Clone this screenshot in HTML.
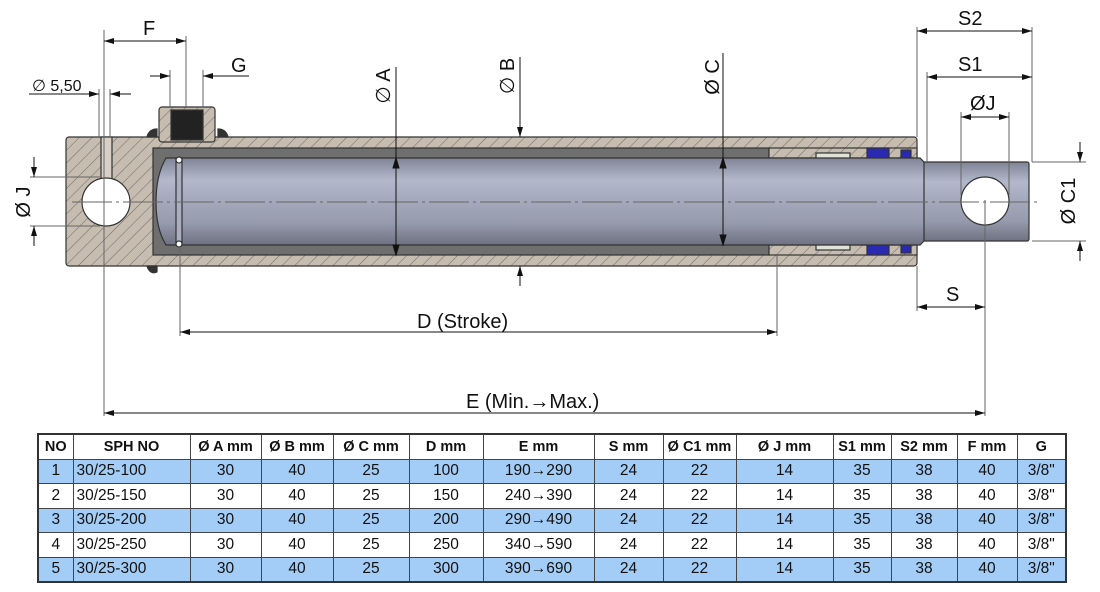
<!DOCTYPE html>
<html><head><meta charset="utf-8"><style>
body{margin:0;background:#fff;width:1100px;height:592px;overflow:hidden;font-family:"Liberation Sans",sans-serif}
svg{position:absolute;left:0;top:0}
table{position:absolute;left:37px;top:433px;border-collapse:collapse;table-layout:fixed;font-family:"Liberation Sans",sans-serif;font-size:15.5px;color:#111;border:2px solid #333}
td,th{border:1px solid #444;height:23.5px;line-height:20px;padding:0;text-align:center;overflow:hidden;white-space:nowrap}
th{font-weight:bold;font-size:14.5px;background:#fff}
tr.b td{background:#a3cdf6}
td.l{text-align:left;padding-left:3px}
</style></head><body>
<svg width="1100" height="592" viewBox="0 0 1100 592">
<defs>
<pattern id="h" width="9" height="9" patternUnits="userSpaceOnUse" patternTransform="rotate(45)">
<rect width="9" height="9" fill="#c6bcb0"/><line x1="0" y1="0" x2="0" y2="9" stroke="#555" stroke-width="0.8"/></pattern>
<linearGradient id="rod" x1="0" y1="0" x2="0" y2="1">
<stop offset="0" stop-color="#7f8496"/><stop offset="0.25" stop-color="#b3b8cb"/><stop offset="0.45" stop-color="#a7abbf"/><stop offset="0.75" stop-color="#959aac"/><stop offset="1" stop-color="#6e7282"/></linearGradient>
<marker id="a" viewBox="0 0 10 6" refX="10" refY="3" markerWidth="10" markerHeight="6" orient="auto-start-reverse" markerUnits="userSpaceOnUse"><path d="M0,0L10,3L0,6z" fill="#111"/></marker>
</defs>
<g stroke="#333" stroke-width="1.2">
<rect x="66" y="137" width="851" height="129" rx="3" fill="url(#h)"/>
<rect x="153" y="148" width="616" height="107" fill="#6f6f6f"/>
<rect x="769" y="148" width="148" height="10" fill="url(#h)"/>
<rect x="769" y="245" width="148" height="10" fill="url(#h)"/>
<rect x="816" y="153" width="34" height="6" fill="#dfe3d8"/>
<rect x="816" y="244" width="34" height="6" fill="#dfe3d8"/>
<rect x="867" y="148" width="22" height="10" fill="#2a2ab0"/>
<rect x="867" y="245" width="22" height="10" fill="#2a2ab0"/>
<rect x="901" y="150" width="10" height="8" fill="#2a2ab0"/>
<rect x="901" y="245" width="10" height="8" fill="#2a2ab0"/>
<rect x="915" y="162" width="114" height="79" rx="2" fill="url(#rod)"/>
<path d="M180,158H920L924,162V241L920,245H180z" fill="url(#rod)"/>
<path d="M180,158H166Q156,175 156,202Q156,229 166,245H180z" fill="url(#rod)"/>
<rect x="176" y="158" width="6" height="87" fill="#a9aec2"/>
<circle cx="179" cy="160" r="3" fill="#fff"/><circle cx="179" cy="244" r="3" fill="#fff"/>
<rect x="101" y="137" width="11" height="45" fill="#d8d0c6"/>
<circle cx="106" cy="202" r="24" fill="#fff"/>
<circle cx="985" cy="201" r="24" fill="#fff"/>
<rect x="159" y="107" width="56" height="35" rx="3" fill="url(#h)"/>
<rect x="171" y="110" width="32" height="30" fill="#222"/>
<path d="M147,137q2,-8 10,-8v8z M218,129q8,0 10,8h-10z M147,266q3,9 10,6v-6z" fill="#333"/>
</g>
<g stroke="#666" stroke-width="1" fill="none">
<line x1="72" y1="202" x2="1040" y2="202" stroke-dasharray="40,4,3,4"/>
<line x1="104" y1="30" x2="104" y2="416"/><line x1="186" y1="36" x2="186" y2="107"/>
<line x1="170" y1="70" x2="170" y2="107"/><line x1="203" y1="70" x2="203" y2="107"/>
<line x1="99" y1="89" x2="99" y2="137"/><line x1="110" y1="89" x2="110" y2="137"/>
<line x1="30" y1="177" x2="100" y2="177"/><line x1="30" y1="226" x2="100" y2="226"/>
<line x1="917" y1="27" x2="917" y2="137"/><line x1="1032" y1="27" x2="1032" y2="162"/>
<line x1="927" y1="72" x2="927" y2="162"/>
<line x1="961" y1="112" x2="961" y2="195"/><line x1="1009" y1="112" x2="1009" y2="195"/>
<line x1="1032" y1="162" x2="1086" y2="162"/><line x1="1032" y1="241" x2="1086" y2="241"/>
<line x1="180" y1="247" x2="180" y2="336"/><line x1="777" y1="255" x2="777" y2="336"/>
<line x1="985" y1="200" x2="985" y2="416"/><line x1="917" y1="266" x2="917" y2="311"/>
</g>
<g stroke="#111" stroke-width="1" fill="none">
<line x1="104" y1="41" x2="186" y2="41" marker-start="url(#a)" marker-end="url(#a)"/>
<line x1="150" y1="76" x2="170" y2="76" marker-end="url(#a)"/><line x1="249" y1="76" x2="203" y2="76" marker-end="url(#a)"/>
<line x1="29" y1="94" x2="99" y2="94" marker-end="url(#a)"/><line x1="131" y1="94" x2="110" y2="94" marker-end="url(#a)"/>
<line x1="34" y1="157" x2="34" y2="177" marker-end="url(#a)"/><line x1="34" y1="246" x2="34" y2="226" marker-end="url(#a)"/>
<line x1="396" y1="67" x2="396" y2="255"/><path d="M396,158l-3,10h6z M396,255l-3,-10h6z" fill="#111"/>
<line x1="520" y1="57" x2="520" y2="137" marker-end="url(#a)"/><line x1="520" y1="286" x2="520" y2="266" marker-end="url(#a)"/>
<line x1="723" y1="53" x2="723" y2="245"/><path d="M723,158l-3,10h6z M723,245l-3,-10h6z" fill="#111"/>
<line x1="917" y1="31" x2="1032" y2="31" marker-start="url(#a)" marker-end="url(#a)"/>
<line x1="927" y1="77" x2="1032" y2="77" marker-start="url(#a)" marker-end="url(#a)"/>
<line x1="961" y1="117" x2="1009" y2="117" marker-start="url(#a)" marker-end="url(#a)"/>
<line x1="1080" y1="142" x2="1080" y2="162" marker-end="url(#a)"/><line x1="1080" y1="261" x2="1080" y2="241" marker-end="url(#a)"/>
<line x1="917" y1="307" x2="985" y2="307" marker-start="url(#a)" marker-end="url(#a)"/>
<line x1="180" y1="332" x2="777" y2="332" marker-start="url(#a)" marker-end="url(#a)"/>
<line x1="104" y1="413" x2="985" y2="413" marker-start="url(#a)" marker-end="url(#a)"/>
</g>
<g font-family="Liberation Sans,sans-serif" fill="#111" font-size="20">
<text x="143" y="35">F</text><text x="231" y="72">G</text>
<text x="32" y="91" font-size="16">∅ 5,50</text>
<text x="958" y="25">S2</text><text x="958" y="71">S1</text><text x="970" y="110">ØJ</text>
<text x="946" y="301">S</text>
<text x="417" y="328">D (Stroke)</text>
<text x="466" y="408">E (Min.→Max.)</text>
<text transform="translate(30,202) rotate(-90)" text-anchor="middle">Ø J</text>
<text transform="translate(390,86) rotate(-90)" text-anchor="middle">∅ A</text>
<text transform="translate(514,76) rotate(-90)" text-anchor="middle">∅ B</text>
<text transform="translate(719,77) rotate(-90)" text-anchor="middle">Ø C</text>
<text transform="translate(1075,201) rotate(-90)" text-anchor="middle">Ø C1</text>
</g>
</svg>
<table>
<colgroup><col style="width:35px"><col style="width:117px"><col style="width:71px"><col style="width:72px"><col style="width:76px"><col style="width:74px"><col style="width:111px"><col style="width:69px"><col style="width:73px"><col style="width:97px"><col style="width:58px"><col style="width:66px"><col style="width:60px"><col style="width:49px"></colgroup>
<tr><th>NO</th><th>SPH NO</th><th>Ø A mm</th><th>Ø B mm</th><th>Ø C mm</th><th>D mm</th><th>E mm</th><th>S mm</th><th>Ø C1 mm</th><th>Ø J mm</th><th>S1 mm</th><th>S2 mm</th><th>F mm</th><th>G</th></tr>
<tr class="b"><td>1</td><td class="l">30/25-100</td><td>30</td><td>40</td><td>25</td><td>100</td><td>190→290</td><td>24</td><td>22</td><td>14</td><td>35</td><td>38</td><td>40</td><td>3/8"</td></tr>
<tr><td>2</td><td class="l">30/25-150</td><td>30</td><td>40</td><td>25</td><td>150</td><td>240→390</td><td>24</td><td>22</td><td>14</td><td>35</td><td>38</td><td>40</td><td>3/8"</td></tr>
<tr class="b"><td>3</td><td class="l">30/25-200</td><td>30</td><td>40</td><td>25</td><td>200</td><td>290→490</td><td>24</td><td>22</td><td>14</td><td>35</td><td>38</td><td>40</td><td>3/8"</td></tr>
<tr><td>4</td><td class="l">30/25-250</td><td>30</td><td>40</td><td>25</td><td>250</td><td>340→590</td><td>24</td><td>22</td><td>14</td><td>35</td><td>38</td><td>40</td><td>3/8"</td></tr>
<tr class="b"><td>5</td><td class="l">30/25-300</td><td>30</td><td>40</td><td>25</td><td>300</td><td>390→690</td><td>24</td><td>22</td><td>14</td><td>35</td><td>38</td><td>40</td><td>3/8"</td></tr>
</table>
</body></html>
